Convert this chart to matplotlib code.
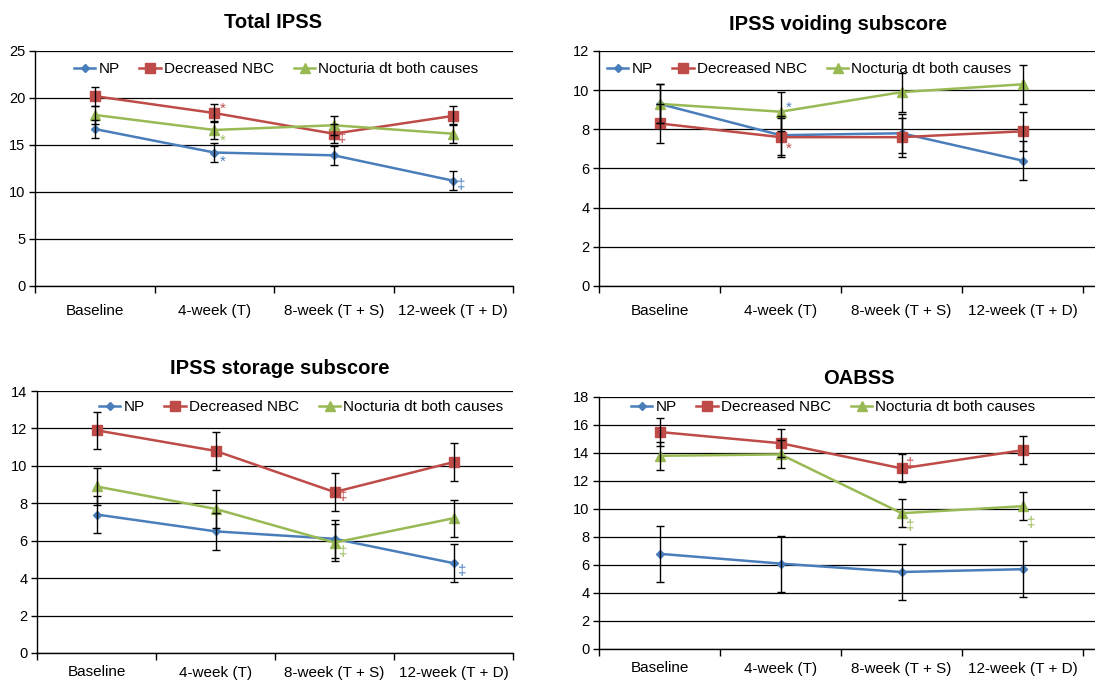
import matplotlib.pyplot as plt
import numpy as np

plt.rcParams['font.family'] = ['Liberation Sans', 'DejaVu Sans']

categories = ['Baseline', '4-week (T)', '8-week (T + S)', '12-week (T + D)']
series_names = ['NP', 'Decreased NBC', 'Nocturia dt both causes']

# Total IPSS
total_np = [16.7, 14.2, 13.9, 11.2]
total_nbc = [20.2, 18.4, 16.2, 18.1]
total_both = [18.2, 16.6, 17.1, 16.2]
total_err = [[1.0] * 4, [1.0] * 4, [1.0] * 4]

# IPSS voiding subscore
void_np = [9.3, 7.7, 7.8, 6.4]
void_nbc = [8.3, 7.6, 7.6, 7.9]
void_both = [9.3, 8.9, 9.9, 10.3]
void_err = [[1.0] * 4, [1.0] * 4, [1.0] * 4]

# IPSS storage subscore
stor_np = [7.4, 6.5, 6.1, 4.8]
stor_nbc = [11.9, 10.8, 8.6, 10.2]
stor_both = [8.9, 7.7, 5.9, 7.2]
stor_err = [[1.0] * 4, [1.0] * 4, [1.0] * 4]

# OABSS
oab_np = [6.8, 6.1, 5.5, 5.7]
oab_nbc = [15.5, 14.7, 12.9, 14.2]
oab_both = [13.8, 13.9, 9.7, 10.2]
oab_err = [[2.0] * 4, [1.0] * 4, [1.0] * 4]

# significance marks: (series, category, y, symbol)
total_marks = [(1, 1, 18.9, '*'), (2, 1, 15.4, '*'), (0, 1, 13.2, '*'),
               (1, 2, 15.7, '\u2021'), (0, 3, 10.7, '\u2021')]
void_marks = [(0, 1, 9.1, '*'), (1, 1, 7.0, '*')]
stor_marks = [(1, 2, 8.4, '\u2021'), (2, 2, 5.4, '\u2021'), (0, 3, 4.4, '\u2021')]
oab_marks = [(1, 2, 13.2, '\u2021'), (2, 2, 8.8, '\u2021'), (2, 3, 9.0, '\u2021')]

colors = ['#4A7EBB', '#BE4B48', '#98B954']
markers = ['D', 's', '^']
msizes = [4, 7.5, 6.5]

W, H = 1095, 681
fig = plt.figure(figsize=(W / 100, H / 100), dpi=100)


def px_axes(l, t, r, b):
    return fig.add_axes([l / W, 1 - b / H, (r - l) / W, (b - t) / H])


panels = [
    dict(box=(35, 51, 513, 286), xmax=3.5, ymax=25, step=5, title='Total IPSS',
         tpos=(273, 22), lpos=(74, 69), lpad=13,
         data=[total_np, total_nbc, total_both], err=total_err, marks=total_marks),
    dict(box=(599, 51, 1105, 286), xmax=3.68, ymax=12, step=2, title='IPSS voiding subscore',
         tpos=(838, 25), lpos=(607, 69), lpad=13,
         data=[void_np, void_nbc, void_both], err=void_err, marks=void_marks),
    dict(box=(37, 391, 513, 653), xmax=3.5, ymax=14, step=2, title='IPSS storage subscore',
         tpos=(280, 369), lpos=(99, 407), lpad=9,
         data=[stor_np, stor_nbc, stor_both], err=stor_err, marks=stor_marks),
    dict(box=(599, 397, 1105, 649), xmax=3.68, ymax=18, step=2, title='OABSS',
         tpos=(859, 378), lpos=(631, 407), lpad=9,
         data=[oab_np, oab_nbc, oab_both], err=oab_err, marks=oab_marks),
]

x = np.arange(len(categories))

for p in panels:
    ax = px_axes(*p['box'])
    handles = []
    for k in range(3):
        ax.errorbar(x, p['data'][k], yerr=p['err'][k], fmt='none', ecolor='black',
                    elinewidth=1, capsize=3, capthick=1, zorder=4)
        h, = ax.plot(x, p['data'][k], color=colors[k], marker=markers[k],
                     markersize=msizes[k], lw=1.8, label=series_names[k], zorder=3)
        handles.append(h)
    for s, c, y, sym in p['marks']:
        ax.text(c + 0.07, y, sym, color=colors[s], fontsize=11, ha='center', va='center')

    ax.set_xlim(-0.5, p['xmax'])
    ax.set_ylim(0, p['ymax'])
    ax.set_yticks(np.arange(0, p['ymax'] + 0.1, p['step']))
    ax.yaxis.grid(True, color='black', lw=0.9)
    ax.set_axisbelow(True)
    ax.tick_params(axis='y', length=4, width=1, labelsize=10.5, pad=3)
    ax.set_xticks(x)
    ax.set_xticklabels(categories)
    ax.set_xticks([-0.5, 0.5, 1.5, 2.5, 3.5], minor=True)
    ax.tick_params(axis='x', which='major', length=0, labelsize=11, pad=p['lpad'])
    ax.tick_params(axis='x', which='minor', length=5, width=1)
    for side in ['top', 'right']:
        ax.spines[side].set_visible(False)
    for side in ['left', 'bottom']:
        ax.spines[side].set_linewidth(1)
        ax.spines[side].set_color('black')

    fig.text(p['tpos'][0] / W, 1 - p['tpos'][1] / H, p['title'], fontsize=14.5,
             fontweight='bold', ha='center', va='center')
    ax.legend(handles=handles, loc='center left',
              bbox_to_anchor=(p['lpos'][0] / W, 1 - p['lpos'][1] / H),
              bbox_transform=fig.transFigure, ncol=3, frameon=False, fontsize=11,
              handlelength=1.4, handletextpad=0.2, columnspacing=1.3,
              borderpad=0, borderaxespad=0)

fig.savefig('out.png', dpi=100)
